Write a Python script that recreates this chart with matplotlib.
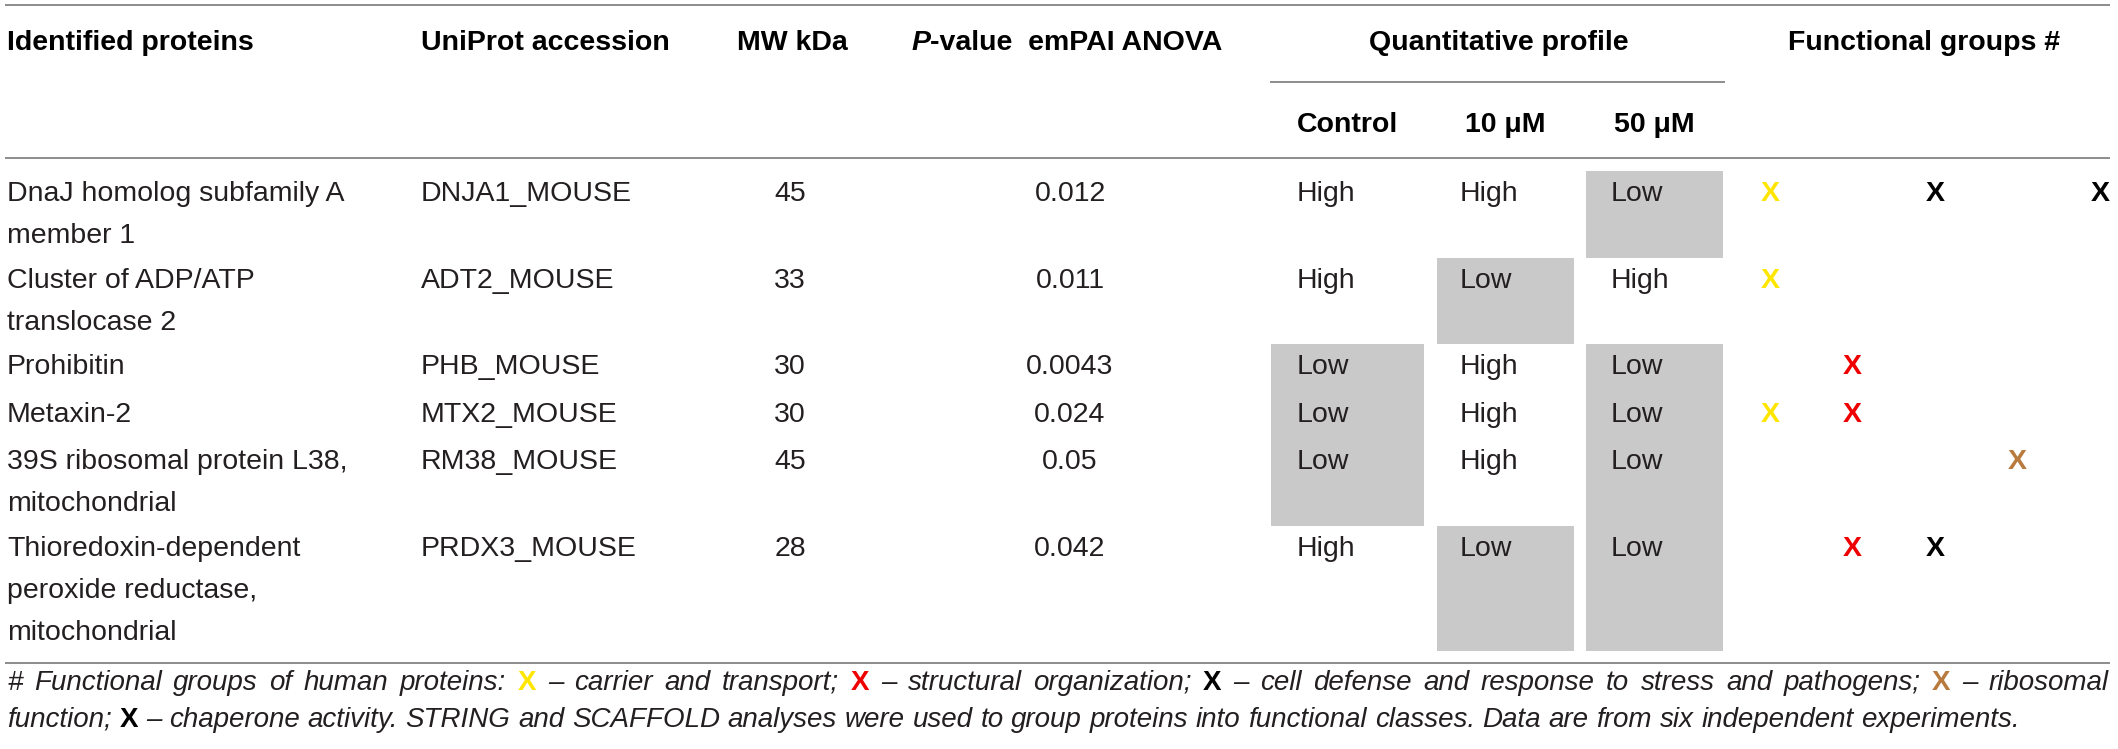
import matplotlib
matplotlib.use('Agg')
import matplotlib.pyplot as plt
from matplotlib.patches import Rectangle

plt.rcParams['font.family'] = ['Liberation Sans', 'DejaVu Sans']

# Table content
proteins = [
    ['DnaJ homolog subfamily A', 'member 1'],
    ['Cluster of ADP/ATP', 'translocase 2'],
    ['Prohibitin'],
    ['Metaxin-2'],
    ['39S ribosomal protein L38,', 'mitochondrial'],
    ['Thioredoxin-dependent', 'peroxide reductase,', 'mitochondrial'],
]
accessions = ['DNJA1_MOUSE', 'ADT2_MOUSE', 'PHB_MOUSE', 'MTX2_MOUSE', 'RM38_MOUSE', 'PRDX3_MOUSE']
mw_kda = [45, 33, 30, 30, 45, 28]
p_values = ['0.012', '0.011', '0.0043', '0.024', '0.05', '0.042']
profile_cols = ['Control', '10 \u03bcM', '50 \u03bcM']
profile = [
    ['High', 'High', 'Low'],
    ['High', 'Low', 'High'],
    ['Low', 'High', 'Low'],
    ['Low', 'High', 'Low'],
    ['Low', 'High', 'Low'],
    ['High', 'Low', 'Low'],
]
# functional groups: carrier, structural, defense, ribosomal, chaperone
group_colors = ['#FFE600', '#EE0000', '#000000', '#B87A3D', '#000000']
groups = [
    [1, 0, 1, 0, 1],
    [1, 0, 0, 0, 0],
    [0, 1, 0, 0, 0],
    [1, 1, 0, 0, 0],
    [0, 0, 0, 1, 0],
    [0, 1, 1, 0, 0],
]
footnote = [
    [('# Functional groups of human proteins:', None), ('X', group_colors[0]),
     ('\u2013 carrier and transport;', None), ('X', group_colors[1]),
     ('\u2013 structural organization;', None), ('X', group_colors[2]),
     ('\u2013 cell defense and response to stress and pathogens;', None),
     ('X', group_colors[3]), ('\u2013 ribosomal', None)],
    [('function;', None), ('X', group_colors[4]),
     ('\u2013 chaperone activity. STRING and SCAFFOLD analyses were used to group '
      'proteins into functional classes. Data are from six independent experiments.', None)],
]

W, H = 2118, 749
fig = plt.figure(figsize=(W / 100, H / 100), dpi=100)
ax = fig.add_axes([0, 0, 1, 1])
ax.set_xlim(0, W)
ax.set_ylim(H, 0)
ax.axis('off')

fs = 20.5
txt = '#231F20'
line_col = '#6e6e6e'
gray = '#C9C9C9'

# rules
def hline(y, x0=5, x1=2110):
    ax.plot([x0, x1], [y, y], color=line_col, lw=1.1, solid_capstyle='butt')

hline(5)
hline(158)
hline(82, 1270, 1725)
hline(663)

# header
hy = 43
hk = dict(fontsize=fs, fontweight='bold', va='center', color='k')
ax.text(7, hy, 'Identified proteins', ha='left', **hk)
ax.text(421, hy, 'UniProt accession', ha='left', **hk)
ax.text(792, hy, 'MW kDa', ha='center', **hk)
ax.text(930, hy, 'P', ha='right', style='italic', **hk)
ax.text(930, hy, '-value  emPAI ANOVA', ha='left', **hk)
ax.text(1499, hy, 'Quantitative profile', ha='center', **hk)
ax.text(1924, hy, 'Functional groups #', ha='center', **hk)

col_box = [(1271, 1424), (1437, 1574), (1586, 1723)]
col_txt = [1297, 1460, 1611]
for (x0, x1), name in zip(col_box, profile_cols):
    ax.text((x0 + x1) / 2, 125, name, ha='center', **hk)

group_x = [1770, 1852, 1935, 2017, 2100]

# body rows
top = 171
line_h = 42
for i in range(len(proteins)):
    n = len(proteins[i])
    rh = 8.5 + 39 * n
    y0 = top + 23
    # shaded "Low" cells
    for j, val in enumerate(profile[i]):
        if val == 'Low':
            x0, x1 = col_box[j]
            ax.add_patch(Rectangle((x0, top), x1 - x0, rh, facecolor=gray,
                                   edgecolor='none', zorder=0))
    for k, s in enumerate(proteins[i]):
        ax.text(7, y0 + k * line_h, s, ha='left', va='center', fontsize=fs, color=txt)
    ax.text(421, y0, accessions[i], ha='left', va='center', fontsize=fs, color=txt)
    ax.text(790, y0, str(mw_kda[i]), ha='center', va='center', fontsize=fs, color=txt)
    ax.text(1070, y0, p_values[i], ha='center', va='center', fontsize=fs, color=txt)
    for j, val in enumerate(profile[i]):
        ax.text(col_txt[j], y0, val, ha='left', va='center', fontsize=fs, color=txt)
    for g, on in enumerate(groups[i]):
        if on:
            ax.text(group_x[g], y0, 'X', ha='center', va='center', fontsize=fs,
                    fontweight='bold', color=group_colors[g])
    top += rh

# footnote, word by word so the coloured markers sit inline; first line justified
r = fig.canvas.get_renderer()
ffs = 20
probe = ax.text(0, 0, 'a a', fontsize=ffs, style='italic')
w2 = probe.get_window_extent(renderer=r).width
probe.set_text('aa')
space = w2 - probe.get_window_extent(renderer=r).width
probe.remove()
for li, runs in enumerate(footnote):
    y = 683 + li * 37
    items = []
    for s, c in runs:
        if c is None:
            for w in s.split(' '):
                t = ax.text(0, y, w, fontsize=ffs, style='italic', color=txt,
                            ha='left', va='center')
                items.append(t)
        else:
            t = ax.text(0, y, s, fontsize=ffs, fontweight='bold', color=c,
                        ha='left', va='center')
            items.append(t)
    widths = [t.get_window_extent(renderer=r).width for t in items]
    gap = space
    if li == 0:
        gap = (2109 - 7 - sum(widths)) / (len(items) - 1)
    x = 7
    for t, w in zip(items, widths):
        t.set_x(x)
        x += w + gap

fig.savefig('out.png', dpi=100, facecolor='white')
